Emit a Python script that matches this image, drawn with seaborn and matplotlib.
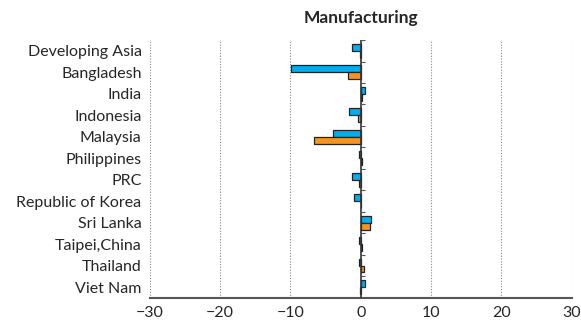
import matplotlib
matplotlib.use("Agg")
import matplotlib.pyplot as plt
import seaborn as sns
import pandas as pd
import numpy as np

categories = ["Developing Asia", "Bangladesh", "India", "Indonesia", "Malaysia",
              "Philippines", "PRC", "Republic of Korea", "Sri Lanka", "Taipei,China",
              "Thailand", "Viet Nam"]
series_a = [-1.2, -9.9, 0.6, -1.7, -3.9, -0.2, -1.3, -1.0, 1.5, -0.2, -0.2, 0.55]
series_b = [-0.1, -1.8, 0.2, -0.45, -6.6, 0.1, -0.2, 0.05, 1.25, 0.1, 0.4, -0.1]
series_names = ["A", "B"]
xticks = [-30, -20, -10, 0, 10, 20, 30]
title = "Manufacturing"

df = pd.DataFrame({
    "country": categories * 2,
    "value": series_a + series_b,
    "series": [series_names[0]] * len(categories) + [series_names[1]] * len(categories),
})

sns.set_style("white")
plt.rcParams["font.family"] = ["Lato", "DejaVu Sans"]

fig = plt.figure(figsize=(5.81, 3.28), dpi=100)
ax = fig.add_axes([0.258, 0.092, 0.726, 0.786])

sns.barplot(data=df, y="country", x="value", hue="series", orient="h",
            palette=["#00AEEF", "#F7941D"], saturation=1, edgecolor="#222222",
            linewidth=0.9, width=0.64, ax=ax, legend=False, order=categories)

ax.set_xlim(-30, 30)
ax.set_ylim(len(categories) - 0.5, -0.5)
ax.set_xticks(xticks)
ax.set_xticklabels([str(t).replace("-", "\u2212") for t in xticks], fontsize=11.5)
ax.tick_params(axis="x", length=0, pad=6)
ax.tick_params(axis="y", length=0, pad=6, labelsize=11.5)
ax.set_xlabel("")
ax.set_ylabel("")
for t in xticks:
    if t != 0:
        ax.axvline(t, color="#888888", linestyle=(0, (1, 1.5)), linewidth=0.8, zorder=0)
ax.axvline(0, color="#333333", linewidth=1.2, zorder=5)
# small ticks at category boundaries on the zero axis
bounds = np.arange(len(categories) + 1) - 0.5
ax.hlines(bounds[:-1], 0, 0.6, color="#555555", linewidth=0.8, zorder=5)

for s in ["top", "right", "left"]:
    ax.spines[s].set_visible(False)
ax.spines["bottom"].set_color("#555555")
ax.spines["bottom"].set_linewidth(1.5)

fig.text(0.622, 0.945, title, ha="center", va="center", fontsize=12.5, fontweight="bold")

fig.savefig("out.png", dpi=100)
